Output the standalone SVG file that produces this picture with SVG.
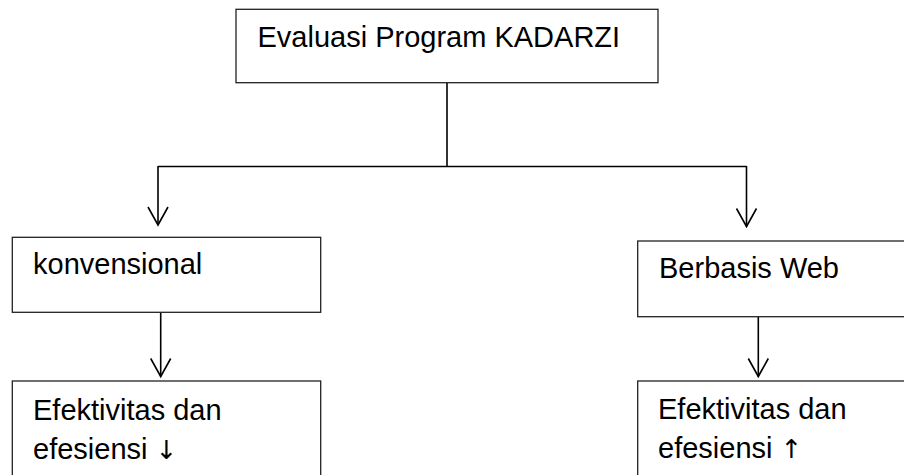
<svg xmlns="http://www.w3.org/2000/svg" width="904" height="475" viewBox="0 0 904 475">
  <style>
    .box { fill: #ffffff; stroke: #222222; stroke-width: 1.3; }
    .lbl { font-family: "Liberation Sans", Arial, sans-serif; font-size: 29px; fill: #000000; }
    .arr { font-family: "DejaVu Sans", sans-serif; font-size: 26px; fill: #000000; }
    .conn { fill: none; stroke: #000000; stroke-width: 1.6; }
    .head { fill: none; stroke: #000000; stroke-width: 1.6; stroke-linejoin: miter; }
  </style>
  <rect width="904" height="475" fill="#ffffff"/>
  <g id="connectors">
    <path class="conn" d="M447,83 V166.5 M158,166.5 H746.5 M158,166 V225 M746.5,166 V226.5"/>
    <path class="head" d="M148,207 L158,225 L168,207 M736.5,208.5 L746.5,226.5 L756.5,208.5"/>
    <path class="conn" d="M160.7,313 V376.5 M758.3,317 V376.5"/>
    <path class="head" d="M150.7,358.5 L160.7,376.5 L170.7,358.5 M748.3,358.5 L758.3,376.5 L768.3,358.5"/>
  </g>
  <g id="node-evaluasi">
    <rect class="box" x="236" y="9.3" width="422" height="73.4"/>
    <text class="lbl" x="257.5" y="47">Evaluasi Program KADARZI</text>
  </g>
  <g id="node-konvensional">
    <rect class="box" x="12.3" y="237.3" width="308.4" height="75"/>
    <text class="lbl" x="33" y="274">konvensional</text>
  </g>
  <g id="node-berbasis-web">
    <rect class="box" x="637.7" y="241" width="280" height="75.7"/>
    <text class="lbl" x="659" y="278">Berbasis Web</text>
  </g>
  <g id="node-efektivitas-turun">
    <rect class="box" x="12.3" y="381" width="308.4" height="110"/>
    <text class="lbl" x="33" y="420">Efektivitas dan</text>
    <text class="lbl" x="33" y="459">efesiensi <tspan class="arr">↓</tspan></text>
  </g>
  <g id="node-efektivitas-naik">
    <rect class="box" x="637.7" y="381" width="280" height="110"/>
    <text class="lbl" x="658" y="419">Efektivitas dan</text>
    <text class="lbl" x="658" y="458">efesiensi <tspan class="arr">↑</tspan></text>
  </g>
</svg>
